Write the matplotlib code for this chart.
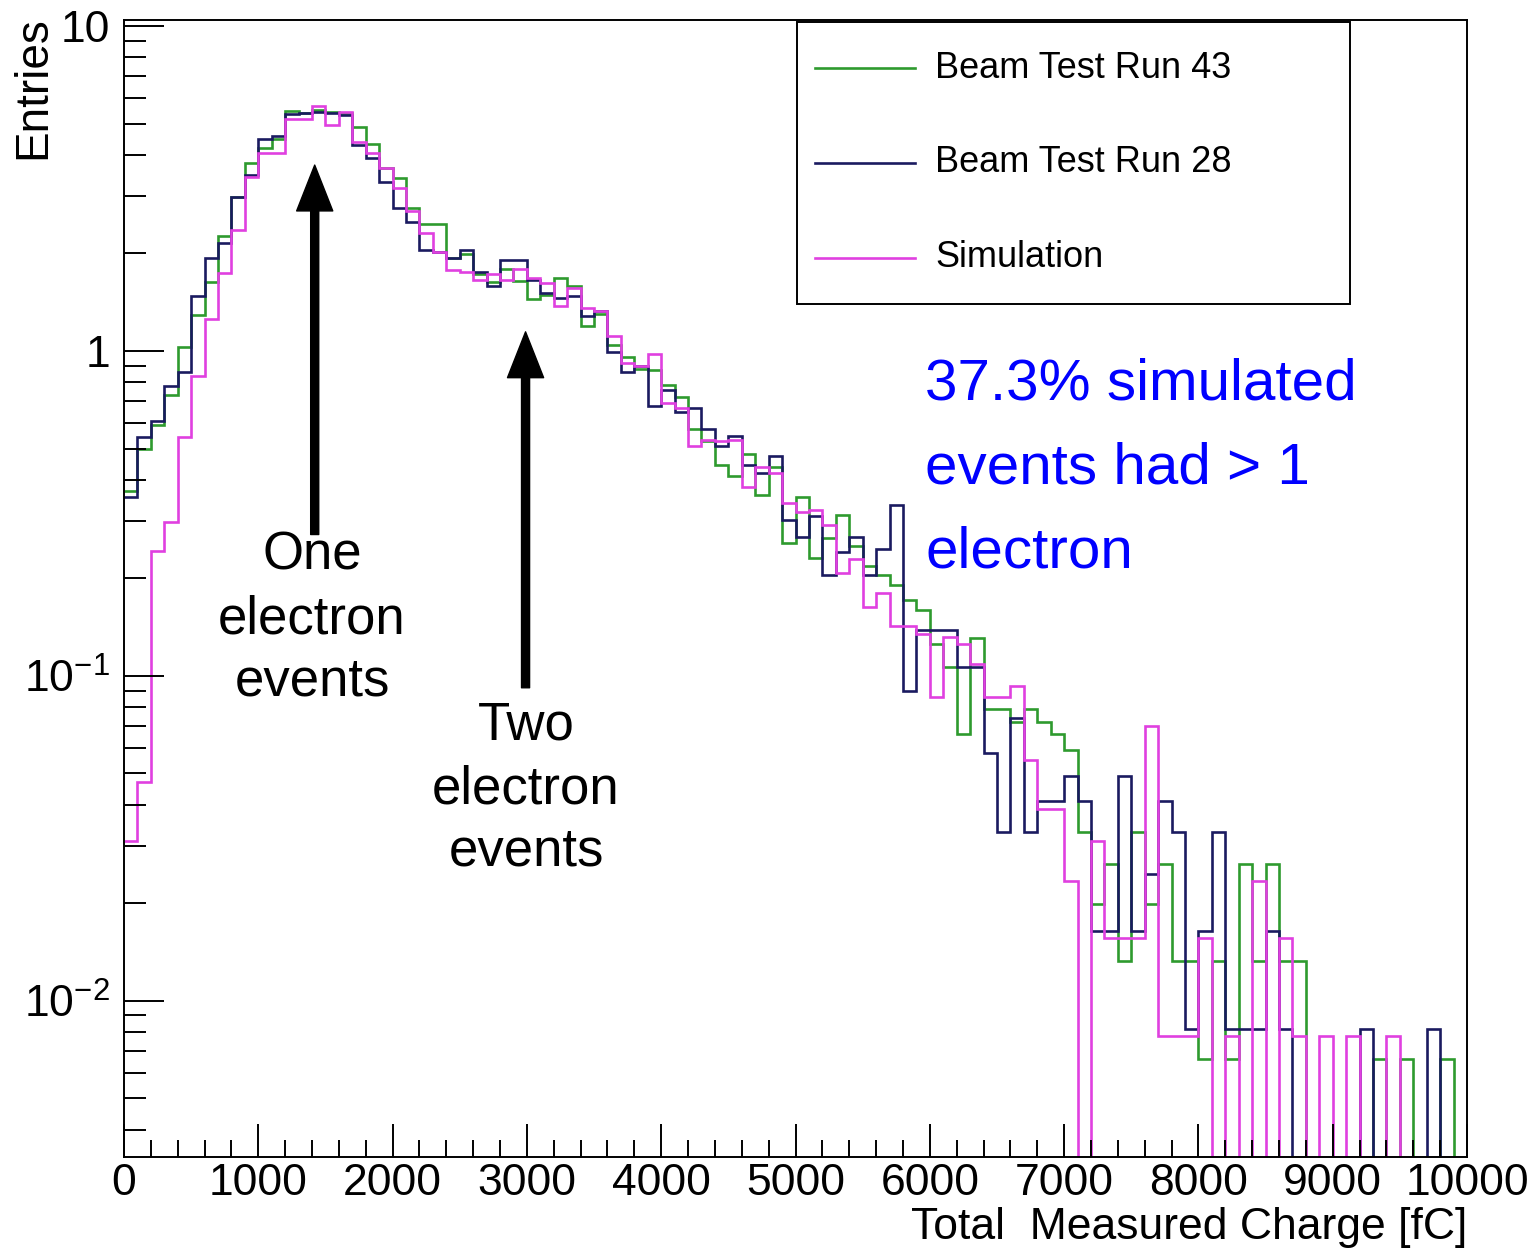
import numpy as np
import matplotlib
matplotlib.use("Agg")
import matplotlib.pyplot as plt
from matplotlib.patches import Rectangle
from matplotlib.lines import Line2D
from matplotlib.ticker import LogLocator, NullFormatter, MultipleLocator

plt.rcParams['font.family'] = ['Liberation Sans', 'DejaVu Sans']
plt.rcParams['mathtext.fontset'] = 'custom'
plt.rcParams['mathtext.rm'] = 'Liberation Sans'
plt.rcParams['mathtext.it'] = 'Liberation Sans:italic'

# binning: 100 bins of 100 fC
bin_edges = np.arange(0, 10001, 100)

run43 = [0.37, 0.50, 0.59, 0.73, 1.03, 1.29, 1.63, 2.25, 2.98, 3.79,
         4.2, 4.5, 5.48, 5.38, 5.5, 5.45, 5.40, 4.88, 4.34, 3.65,
         3.40, 2.75, 2.46, 2.46, 1.93, 1.98, 1.72, 1.63, 1.78, 1.64,
         1.44, 1.49, 1.68, 1.58, 1.19, 1.30, 1.04, 0.956, 0.88, 0.87,
         0.786, 0.72, 0.574, 0.526, 0.446, 0.413, 0.482, 0.36, 0.44, 0.257,
         0.356, 0.23, 0.265, 0.313, 0.25, 0.217, 0.204, 0.19, 0.171, 0.159,
         0.125, 0.106, 0.066, 0.131, 0.079, 0.079, 0.072, 0.079, 0.072, 0.066,
         0.059, 0.033, 0.0198, 0.0264, 0.0132, 0.033, 0.0198, 0.0264, 0.0132, 0.0132,
         0.0066, 0.0132, 0.0066, 0.0264, 0.0132, 0.0264, 0.0132, 0.0132, 0, 0,
         0, 0, 0, 0.0066, 0, 0.0066, 0, 0, 0.0066, 0]

run28 = [0.355, 0.544, 0.61, 0.777, 0.858, 1.47, 1.93, 2.14, 2.98, 3.48,
         4.5, 4.59, 5.37, 5.38, 5.44, 5.38, 5.32, 4.30, 3.91, 3.32,
         2.75, 2.50, 2.04, 2.02, 1.93, 2.04, 1.75, 1.58, 1.90, 1.90,
         1.65, 1.51, 1.45, 1.48, 1.28, 1.33, 0.99, 0.863, 0.90, 0.677,
         0.755, 0.65, 0.667, 0.574, 0.51, 0.548, 0.446, 0.42, 0.473, 0.302,
         0.268, 0.31, 0.204, 0.24, 0.268, 0.204, 0.246, 0.336, 0.090, 0.138,
         0.138, 0.138, 0.106, 0.106, 0.058, 0.033, 0.074, 0.033, 0.041, 0.041,
         0.049, 0.041, 0.0164, 0.0164, 0.049, 0.0164, 0.0246, 0.041, 0.033, 0.0082,
         0.0164, 0.033, 0.0082, 0.0082, 0.0082, 0.0164, 0.0082, 0, 0, 0,
         0, 0, 0.0082, 0, 0, 0, 0, 0.0082, 0, 0]

simulation = [0.031, 0.047, 0.242, 0.298, 0.544, 0.834, 1.25, 1.74, 2.36, 3.42,
              4.05, 4.05, 5.16, 5.16, 5.65, 4.96, 5.44, 4.4, 4.06, 3.65,
              3.17, 2.69, 2.30, 2.02, 1.77, 1.75, 1.65, 1.72, 1.65, 1.78,
              1.68, 1.62, 1.37, 1.56, 1.35, 1.33, 1.11, 0.918, 0.90, 0.98,
              0.69, 0.667, 0.51, 0.53, 0.526, 0.53, 0.382, 0.44, 0.42, 0.34,
              0.32, 0.324, 0.29, 0.207, 0.228, 0.163, 0.18, 0.142, 0.142, 0.134,
              0.086, 0.132, 0.125, 0.109, 0.086, 0.086, 0.093, 0.055, 0.039, 0.039,
              0.0234, 0, 0.031, 0.0156, 0.0156, 0.0156, 0.070, 0.0078, 0.0078, 0.0078,
              0.0156, 0, 0.0078, 0, 0.0234, 0, 0.0156, 0.0078, 0, 0.0078,
              0, 0.0078, 0, 0, 0.0078, 0, 0, 0, 0, 0]

labels = ["Beam Test Run 43", "Beam Test Run 28", "Simulation"]
colors = ["#2e9a2e", "#1a1a60", "#e040e0"]

x_ticks = [0, 1000, 2000, 3000, 4000, 5000, 6000, 7000, 8000, 9000, 10000]
y_ticks = [0.01, 0.1, 1, 10]
y_tick_labels = [r"$\mathregular{10^{-2}}$", r"$\mathregular{10^{-1}}$", "1", "10"]

W, H = 1535, 1248


def px(x, y):
    # pixel position (from top-left) -> figure fraction
    return x / W, 1 - y / H


fig = plt.figure(figsize=(W / 100, H / 100), dpi=100)
ax = fig.add_axes([124 / W, 1 - 1157 / H, (1467 - 124) / W, (1157 - 20) / H])

for vals, c in zip([run43, run28, simulation], colors):
    ax.stairs(vals, bin_edges, color=c, lw=1.9, baseline=None)

ax.set_yscale("log")
ax.set_xlim(0, 10000)
ax.set_ylim(0.0033, 10.43)

ax.set_xticks(x_ticks)
ax.set_xticklabels([str(t) for t in x_ticks])
ax.xaxis.set_minor_locator(MultipleLocator(200))
ax.set_yticks(y_ticks)
ax.set_yticklabels(y_tick_labels)
ax.yaxis.set_minor_locator(LogLocator(base=10, subs=np.arange(2, 10) * 1.0, numticks=20))
ax.yaxis.set_minor_formatter(NullFormatter())

ax.tick_params(axis="both", which="both", direction="in", width=1.4,
               top=False, right=False, labelsize=32)
ax.tick_params(axis="y", which="major", length=29, pad=10)
ax.tick_params(axis="y", which="minor", length=16)
ax.tick_params(axis="x", which="major", length=24, pad=4.5)
ax.tick_params(axis="x", which="minor", length=12)
for s in ax.spines.values():
    s.set_linewidth(1.4)

fig.text(*px(33, 16), "Entries", rotation=90, ha="center", va="top", fontsize=33)
# the original label runs off the image bottom; keep it just inside
fig.text(*px(1467, 1247.5), "Total  Measured Charge [fC]", ha="right", va="bottom", fontsize=32)

# legend box
lx0, ly0 = px(797, 304)
lx1, ly1 = px(1350, 22)
fig.patches.append(Rectangle((lx0, ly0), lx1 - lx0, ly1 - ly0, transform=fig.transFigure,
                             facecolor="white", edgecolor="black", lw=1.4, zorder=5))
for lab, c, yy in zip(labels, colors, [68, 163, 258]):
    xa, ya = px(815, yy)
    xb, _ = px(915, yy)
    fig.add_artist(Line2D([xa, xb], [ya, ya], color=c, lw=1.9, zorder=6))
    fig.text(*px(935, yy), lab, ha="left", va="center", fontsize=26, zorder=6)

# annotations
for i, line in enumerate(["One", "electron", "events"]):
    fig.text(*px(312, 570 + 63 * i), line, ha="center", va="baseline", fontsize=38)
for i, line in enumerate(["Two", "electron", "events"]):
    fig.text(*px(526, 740 + 63 * i), line, ha="center", va="baseline", fontsize=38)
for i, line in enumerate(["37.3% simulated", "events had > 1", "electron"]):
    fig.text(*px(925, 399 + 84 * i), line, ha="left", va="baseline", fontsize=42, color="#0000ff")

arrow_style = dict(arrowstyle="simple,head_length=33,head_width=26,tail_width=5.8",
                   mutation_scale=1, color="black", shrinkA=0, shrinkB=0)
ax.annotate("", xy=(1420, 3.73), xytext=(1420, 0.272), arrowprops=arrow_style)
ax.annotate("", xy=(2990, 1.144), xytext=(2990, 0.0918), arrowprops=arrow_style)

fig.savefig("out.png", dpi=100)
